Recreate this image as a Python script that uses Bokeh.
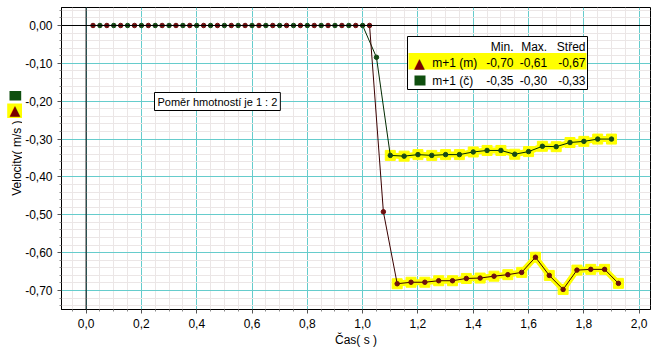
import math
from bokeh.plotting import figure
from bokeh.layouts import row
from bokeh.models import (Range1d, FixedTicker, CustomJSTickFormatter, Span, Label,
                          BoxAnnotation)
from bokeh.embed import file_html
from bokeh.resources import INLINE

# ---------------- data ----------------
green_t = [0.05, 0.10, 0.15, 0.20, 0.25, 0.30, 0.35, 0.40, 0.45, 0.50,
           0.55, 0.60, 0.65, 0.70, 0.75, 0.80, 0.85, 0.90, 0.95, 1.00,
           1.05, 1.10, 1.15, 1.20, 1.25, 1.30, 1.35, 1.40, 1.45, 1.50,
           1.55, 1.60, 1.65, 1.70, 1.75, 1.80, 1.85, 1.90]
green_v = [0.0, 0.0, 0.0, 0.0, 0.0, 0.0, 0.0, 0.0, 0.0, 0.0,
           0.0, 0.0, 0.0, 0.0, 0.0, 0.0, 0.0, 0.0, 0.0, 0.0,
           -0.084, -0.343, -0.345, -0.341, -0.343, -0.341, -0.341, -0.334, -0.330, -0.330,
           -0.340, -0.333, -0.319, -0.320, -0.309, -0.306, -0.300, -0.300]

red_t = [0.025, 0.075, 0.125, 0.175, 0.225, 0.275, 0.325, 0.375, 0.425, 0.475,
         0.525, 0.575, 0.625, 0.675, 0.725, 0.775, 0.825, 0.875, 0.925, 0.975,
         1.025, 1.075, 1.125, 1.175, 1.225, 1.275, 1.325, 1.375, 1.425, 1.475,
         1.525, 1.575, 1.625, 1.675, 1.725, 1.775, 1.825, 1.875, 1.925]
red_v = [0.0, 0.0, 0.0, 0.0, 0.0, 0.0, 0.0, 0.0, 0.0, 0.0,
         0.0, 0.0, 0.0, 0.0, 0.0, 0.0, 0.0, 0.0, 0.0, 0.0,
         0.0, -0.492, -0.682, -0.678, -0.678, -0.674, -0.674, -0.668, -0.667, -0.662,
         -0.658, -0.652, -0.612, -0.660, -0.697, -0.646, -0.644, -0.644, -0.681]

# selected (highlighted) region start
green_sel_start = 1.10
red_sel_start = 1.125

x_ticks = [0.0, 0.2, 0.4, 0.6, 0.8, 1.0, 1.2, 1.4, 1.6, 1.8, 2.0]
y_ticks = [0.0, -0.1, -0.2, -0.3, -0.4, -0.5, -0.6, -0.7]

legend_names = ["m+1 (m)", "m+1 (č)"]
legend_min = ["-0,70", "-0,35"]
legend_max = ["-0,61", "-0,30"]
legend_avg = ["-0,67", "-0,33"]
legend_headers = ["Min.", "Max.", "Střed"]

note_text = "Poměr hmotností je 1 : 2"
x_label = "Čas( s )"
y_label = "Velocity( m/s )"

# ---------------- styles ----------------
FONT = "Liberation Sans"
RED_DOT = "#6e1010"
RED_LINE = "#3a0000"
GREEN_DOT = "#174a17"
GREEN_LINE = "#002a00"
TRI_COLOR = "#7a0000"
SQ_COLOR = "#0f4f0f"
YELLOW = "#ffff00"

LEFT_W = 22
TOTAL_H = 351

x_minor = [round(-0.05 + 0.05 * i, 3) for i in range(43)]
x_minor = [v for v in x_minor if abs(v / 0.2 - round(v / 0.2)) > 1e-6]
y_minor = [round(0.04 - 0.02 * i, 3) for i in range(40)]
y_minor = [v for v in y_minor if abs(v / 0.1 - round(v / 0.1)) > 1e-6]

p = figure(frame_width=589, frame_height=302,
           x_range=Range1d(-0.089, 2.041), y_range=Range1d(-0.75, 0.0475),
           output_backend="svg", toolbar_location=None,
           min_border_left=61 - LEFT_W, min_border_right=8, min_border_top=7,
           min_border_bottom=TOTAL_H - 309,
           background_fill_color="white", border_fill_color="white",
           outline_line_color="black", outline_line_width=1)

xt = FixedTicker(ticks=x_ticks, minor_ticks=x_minor)
yt = FixedTicker(ticks=y_ticks, minor_ticks=y_minor)
p.xaxis.ticker = xt
p.yaxis.ticker = yt
p.xgrid.ticker = xt
p.ygrid.ticker = yt
p.xaxis.formatter = CustomJSTickFormatter(code="return tick.toFixed(1).replace('.', ',');")
p.yaxis.formatter = CustomJSTickFormatter(code="return tick.toFixed(2).replace('.', ',');")

for g in (p.xgrid, p.ygrid):
    g.grid_line_color = "#66cccc"
    g.grid_line_width = 1
    g.minor_grid_line_color = "#ebe6e6"
    g.minor_grid_line_width = 1

for ax in (p.xaxis, p.yaxis):
    ax.axis_line_color = "black"
    ax.major_tick_in = 0
    ax.major_tick_out = 4
    ax.minor_tick_in = 0
    ax.minor_tick_out = 2
    ax.major_tick_line_color = "#555555"
    ax.minor_tick_line_color = "#888888"
    ax.major_label_text_font = FONT
    ax.major_label_text_font_size = "12px"
    ax.major_label_text_color = "black"
    ax.major_label_standoff = 5

p.xaxis.axis_label = x_label
p.xaxis.axis_label_text_font = FONT
p.xaxis.axis_label_text_font_size = "12px"
p.xaxis.axis_label_text_font_style = "normal"
p.xaxis.axis_label_text_color = "black"
p.xaxis.axis_label_standoff = 2

# origin lines
p.add_layout(Span(location=0, dimension="width", line_color="black", line_width=1))
p.add_layout(Span(location=0, dimension="height", line_color="black", line_width=1))

# highlighted selection
gh_t = [t for t in green_t if t >= green_sel_start - 1e-9]
gh_v = [v for t, v in zip(green_t, green_v) if t >= green_sel_start - 1e-9]
rh_t = [t for t in red_t if t >= red_sel_start - 1e-9]
rh_v = [v for t, v in zip(red_t, red_v) if t >= red_sel_start - 1e-9]

for ht, hv in ((gh_t, gh_v), (rh_t, rh_v)):
    p.line(ht, hv, line_color=YELLOW, line_width=6)
    p.scatter(ht, hv, marker="square", size=10, fill_color=YELLOW, line_color=YELLOW)

p.line(green_t, green_v, line_color=GREEN_LINE, line_width=1)
p.scatter(green_t, green_v, size=4.5, fill_color=GREEN_DOT, line_color=GREEN_DOT)
p.line(red_t, red_v, line_color=RED_LINE, line_width=1)
p.scatter(red_t, red_v, size=4.5, fill_color=RED_DOT, line_color=RED_DOT)


# ---------------- annotations ----------------
def box(l, r, b, t, fill, line=None, units="screen"):
    return BoxAnnotation(left=l, right=r, bottom=b, top=t,
                         left_units=units, right_units=units,
                         bottom_units=units, top_units=units,
                         fill_color=fill, fill_alpha=1.0,
                         line_color=line, line_alpha=1.0 if line else 0.0, line_width=1,
                         level="overlay")


def txt(x, y, s, align="left", color="black", size="12px", font=FONT, angle=0,
        units="screen", **kw):
    return Label(x=x, y=y, x_units=units, y_units=units, text=s,
                 text_align=align, text_baseline="middle", text_color=color,
                 text_font=font, text_font_size=size, angle=angle, level="overlay", **kw)


# statistics legend box (frame-relative pixels, y up)
p.add_layout(box(346, 526, 220, 273, "white", "black"))
p.add_layout(box(347, 525, 240, 256.5, YELLOW))
col_right = [452, 485.7, 524]
for cx, h in zip(col_right, legend_headers):
    p.add_layout(txt(cx, 263, h, align="right"))
row_y = [247, 229]
for i in range(2):
    p.add_layout(txt(370.7, row_y[i], legend_names[i]))
    for cx, s in zip(col_right, (legend_min[i], legend_max[i], legend_avg[i])):
        p.add_layout(txt(cx, row_y[i], s, align="right"))
p.add_layout(txt(358, 247, "▲", align="center", color=TRI_COLOR, size="14px", font="DejaVu Sans"))
p.add_layout(box(353, 364, 224, 234, SQ_COLOR))

# note box
p.add_layout(txt(93, 208, note_text, size="11px", border_line_color="black",
                 background_fill_color="white", padding=3))

# ---------------- left strip: y-axis title and series icons ----------------
side = figure(width=LEFT_W, height=TOTAL_H, x_range=Range1d(0, LEFT_W), y_range=Range1d(0, TOTAL_H),
              output_backend="svg", toolbar_location=None, x_axis_type=None, y_axis_type=None,
              min_border=0, min_border_left=0, min_border_right=0, min_border_top=0,
              min_border_bottom=0, outline_line_color=None,
              background_fill_color="white", border_fill_color="white")
side.xgrid.visible = False
side.ygrid.visible = False
side.add_layout(box(9, 20.7, TOTAL_H - 108, TOTAL_H - 97, SQ_COLOR, units="data"))
side.add_layout(box(6.7, 22, TOTAL_H - 128.3, TOTAL_H - 111.7, YELLOW, units="data"))
side.add_layout(txt(14.3, TOTAL_H - 119.5, "▲", align="center", color=TRI_COLOR, size="14px",
                    font="DejaVu Sans", units="data"))
side.add_layout(txt(16, TOTAL_H - 175, y_label, align="center", angle=math.pi / 2, units="data"))

layout = row(side, p)
open("out.html", "w").write(file_html(layout, INLINE))
